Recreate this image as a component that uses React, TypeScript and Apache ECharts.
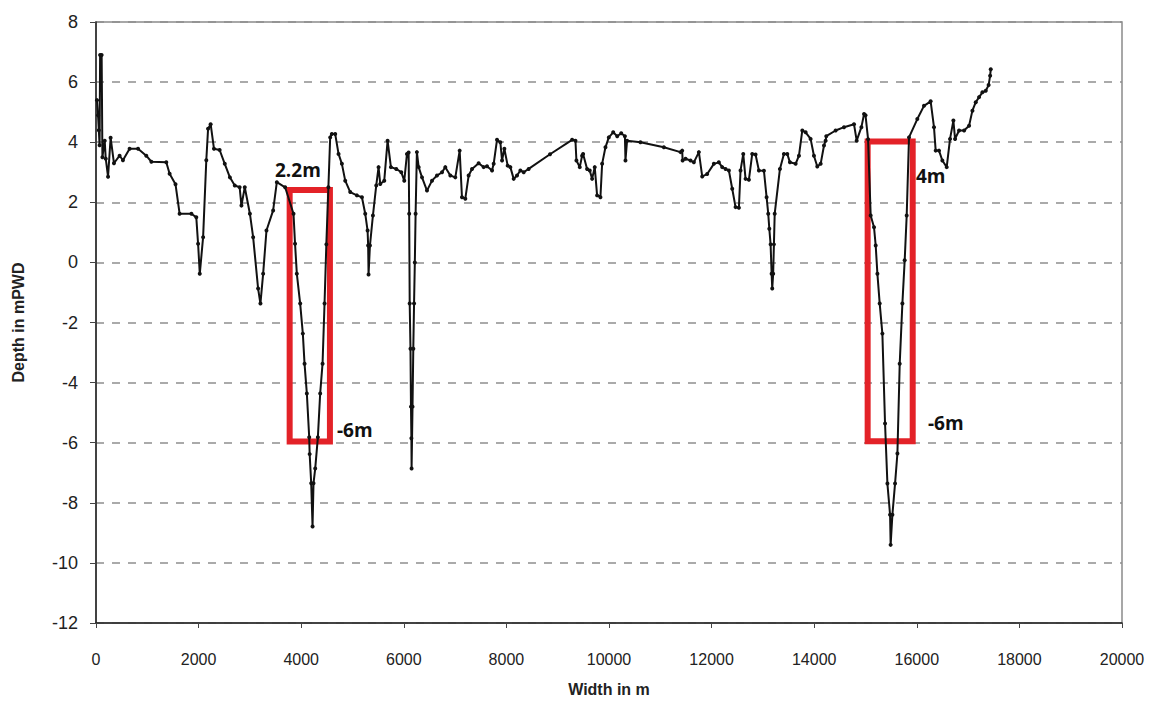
import React, { useEffect, useRef } from "react";
import * as echarts from "echarts";

// Distance along the section (m)
const widthM: number[] = [
  20, 40, 55, 70, 80, 110, 125, 170, 190, 235, 285, 350, 460, 525, 655, 820, 980, 1080, 1370, 1435,
  1550, 1630, 1860, 1955, 1990, 2023, 2088, 2150, 2185, 2235, 2300, 2410, 2510, 2610, 2705, 2800, 2835, 2900, 3000, 3063,
  3160, 3205, 3258, 3323, 3453, 3525, 3687, 3850, 3880, 3915, 3980, 4032, 4065, 4110, 4156, 4165, 4195, 4221, 4240, 4273,
  4325, 4370, 4416, 4455, 4490, 4530, 4565, 4597, 4663, 4728, 4793, 4858, 4956, 5086, 5184, 5248, 5294, 5305, 5313, 5340,
  5398, 5463, 5508, 5541, 5619, 5684, 5749, 5853, 5951, 6009, 6062, 6094, 6105, 6115, 6130, 6140, 6148, 6152, 6170, 6185,
  6200, 6215, 6230, 6255, 6290, 6355, 6452, 6550, 6647, 6745, 6809, 6907, 7004, 7089, 7134, 7199, 7264, 7330, 7459, 7557,
  7622, 7720, 7752, 7817, 7882, 7915, 7960, 8025, 8077, 8142, 8207, 8272, 8337, 8434, 8850, 9281, 9346, 9365, 9430, 9476,
  9495, 9573, 9625, 9671, 9722, 9768, 9833, 9866, 9931, 9996, 10082, 10160, 10238, 10310, 10321, 10352, 10613, 11069, 11394, 11427,
  11435, 11492, 11589, 11654, 11752, 11817, 11914, 12044, 12141, 12207, 12272, 12337, 12402, 12467, 12532, 12564, 12617, 12662, 12727, 12792,
  12857, 12922, 13020, 13072, 13104, 13125, 13150, 13170, 13182, 13200, 13215, 13230, 13332, 13410, 13475, 13527, 13638, 13703, 13768, 13833,
  13930, 13995, 14060, 14126, 14191, 14223, 14235, 14418, 14581, 14776, 14828, 14920, 14972, 15000, 15050, 15101, 15166, 15199, 15232, 15277,
  15329, 15381, 15427, 15479, 15490, 15524, 15576, 15622, 15667, 15719, 15764, 15803, 15848, 16010, 16140, 16270, 16335, 16368, 16433, 16498,
  16583, 16648, 16713, 16746, 16824, 16922, 17019, 17084, 17149, 17214, 17279, 17344, 17400, 17429, 17442,
];

// Bed level (mPWD)
const depthMPWD: number[] = [
  5.4, 4.9, 4.4, 3.9, 6.9, 6.9, 3.5, 4.05, 3.45, 2.85, 4.15, 3.3, 3.55, 3.4, 3.78, 3.78, 3.55, 3.35, 3.33, 2.95,
  2.6, 1.62, 1.62, 1.5, 0.62, -0.38, 0.84, 3.4, 4.45, 4.6, 3.78, 3.74, 3.28, 2.83, 2.56, 2.5, 1.89, 2.5, 1.62, 0.84,
  -0.87, -1.37, -0.38, 1.06, 1.73, 2.67, 2.5, 1.62, 0.62, -0.38, -1.37, -2.37, -3.37, -4.36, -5.82, -6.38, -7.35, -8.79, -7.35, -6.86,
  -5.82, -4.36, -3.37, -1.37, 0.6, 2.5, 4.16, 4.27, 4.27, 3.61, 3.28, 2.72, 2.34, 2.23, 2.17, 1.62, 1.06, 0.56, -0.4, 0.56,
  1.56, 2.56, 3.17, 2.61, 2.72, 4.05, 3.17, 3.11, 3.0, 2.72, 3.61, 3.66, 1.62, -1.37, -2.87, -4.8, -5.85, -6.86, -4.8, -2.87,
  -1.37, 0.0, 1.62, 3.67, 3.17, 2.83, 2.39, 2.72, 2.89, 3.0, 3.17, 2.89, 2.83, 3.72, 2.17, 2.12, 2.89, 3.11, 3.3, 3.17,
  3.2, 3.06, 3.28, 4.08, 4.0, 3.39, 3.78, 3.22, 3.17, 2.78, 2.89, 3.06, 3.0, 3.11, 3.6, 4.08, 4.05, 3.39, 3.17, 3.55,
  3.61, 3.11, 3.06, 2.78, 3.17, 2.23, 2.17, 3.28, 3.83, 4.16, 4.33, 4.2, 4.3, 4.2, 3.39, 4.05, 4.0, 3.83, 3.67, 3.72,
  3.39, 3.45, 3.39, 3.33, 3.67, 2.86, 2.94, 3.28, 3.33, 3.17, 3.11, 3.06, 2.45, 1.84, 1.82, 3.06, 3.61, 2.78, 2.75, 3.61,
  3.59, 3.06, 3.05, 2.17, 1.62, 1.12, 0.6, -0.38, -0.87, -0.38, 0.6, 1.62, 3.11, 3.61, 3.61, 3.33, 3.28, 3.55, 4.39, 4.33,
  4.11, 3.55, 3.19, 3.28, 3.89, 4.05, 4.2, 4.39, 4.5, 4.6, 4.05, 4.5, 4.94, 4.9, 4.1, 1.56, 1.17, 0.56, -0.38, -1.37,
  -2.37, -5.36, -7.36, -8.4, -9.4, -8.4, -7.36, -6.36, -3.37, -1.37, 0.07, 1.56, 4.16, 4.77, 5.21, 5.36, 4.5, 3.72, 3.72, 3.39,
  3.17, 4.11, 4.72, 4.11, 4.39, 4.39, 4.55, 5.05, 5.33, 5.5, 5.66, 5.71, 5.9, 6.21, 6.43,
];

// Highlighted channel boxes: [xFrom, yTop, xTo, yBottom]
const boxes: number[][] = [
  [3775, 2.41, 4560, -5.96],
  [15042, 4.02, 15920, -5.95],
];

const annotations: { text: string; left: number; top: number }[] = [
  { text: "2.2m", left: 275, top: 160 },
  { text: "-6m", left: 337, top: 420 },
  { text: "4m", left: 916, top: 166 },
  { text: "-6m", left: 928, top: 413 },
];

const xTicks = { min: 0, max: 20000, interval: 2000 };
const yTicks = { min: -12, max: 8, interval: 2 };

export default function App() {
  const ref = useRef<HTMLDivElement>(null);
  useEffect(() => {
    if (!ref.current) return;
    const chart = echarts.init(ref.current, undefined, { renderer: "svg" });
    const points = widthM.map((x, i) => [x, depthMPWD[i]]);
    chart.setOption({
      animation: false,
      backgroundColor: "#ffffff",
      grid: {
        left: 96,
        right: 47,
        top: 22,
        bottom: 79,
        show: true,
        borderColor: "#8a8a8a",
        borderWidth: 1.5,
      },
      xAxis: {
        type: "value",
        min: xTicks.min,
        max: xTicks.max,
        interval: xTicks.interval,
        name: "Width in m",
        nameLocation: "middle",
        nameGap: 58,
        nameTextStyle: { fontFamily: "Liberation Sans, Arial, sans-serif", fontWeight: "bold", fontSize: 16, color: "#222" },
        axisLine: { show: true, onZero: false, lineStyle: { color: "#222", width: 1.5 } },
        axisTick: { show: true, length: 5, lineStyle: { color: "#444" } },
        axisLabel: {
          margin: 28,
          formatter: (v: number) => String(v),
          fontFamily: "Liberation Sans Narrow, Liberation Sans, Arial, sans-serif",
          fontSize: 16,
          color: "#222",
        },
        splitLine: { show: false },
      },
      yAxis: {
        type: "value",
        min: yTicks.min,
        max: yTicks.max,
        interval: yTicks.interval,
        name: "Depth in mPWD",
        nameLocation: "middle",
        nameGap: 70,
        nameTextStyle: { fontFamily: "Liberation Sans, Arial, sans-serif", fontWeight: "bold", fontSize: 16, color: "#222" },
        axisLine: { show: true, onZero: false, lineStyle: { color: "#222", width: 1.5 } },
        axisTick: { show: true, length: 6, lineStyle: { color: "#444" } },
        axisLabel: {
          margin: 18,
          fontFamily: "Liberation Sans, Arial, sans-serif",
          fontSize: 18,
          color: "#222",
        },
        splitLine: { show: true, lineStyle: { color: "#8f8f8f", type: [8, 8], width: 1.5 } },
      },
      series: [
        {
          type: "line",
          data: points,
          z: 2,
          symbol: "circle",
          symbolSize: 4,
          showSymbol: true,
          lineStyle: { color: "#111", width: 2 },
          itemStyle: { color: "#111" },
        },
        {
          type: "line",
          data: [],
          z: 5,
          markArea: {
            silent: true,
            itemStyle: { color: "rgba(0,0,0,0)", borderColor: "#e32228", borderWidth: 6 },
            data: boxes.map((b) => [{ coord: [b[0], b[1]] }, { coord: [b[2], b[3]] }]),
          },
        },
      ],
      graphic: annotations.map((a) => ({
        type: "text",
        left: a.left,
        top: a.top,
        z: 10,
        style: {
          text: a.text,
          fill: "#111",
          font: "bold 19px 'Open Sans', 'Liberation Sans', Arial, sans-serif",
        },
      })),
    });
    return () => chart.dispose();
  }, []);
  return <div ref={ref} style={{ width: 1169, height: 702, position: "absolute", left: 0, top: 0 }} />;
}
